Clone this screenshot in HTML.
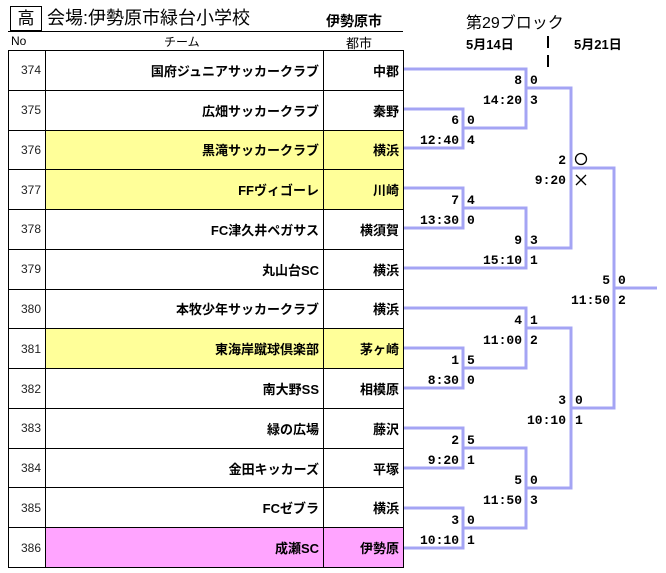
<!DOCTYPE html>
<html><head><meta charset="utf-8"><style>
body{margin:0;width:666px;height:573px;background:#fff;overflow:hidden;position:relative;font-family:"Liberation Sans","Noto Sans CJK JP",sans-serif;}
.a{position:absolute;white-space:nowrap;}
table{position:absolute;left:8px;top:50px;border-collapse:collapse;table-layout:fixed;}
tr{height:39.77px;}
td{border:1.5px solid #000;padding:0 4px;font-size:13px;box-sizing:border-box;}
td.n{width:37px;text-align:right;color:#222;font-size:12px;padding-right:4px}
td.t{width:278px;text-align:right;font-weight:bold;}
td.c{width:80px;text-align:right;font-weight:bold;}
.y td.t,.y td.c{background:#ffff99}
.p td.t,.p td.c{background:#ffa4ff}
svg{position:absolute;left:0;top:0}
svg text{font-family:"Liberation Mono","DejaVu Sans Mono",monospace;font-weight:bold;font-size:13px;}
</style></head><body>
<div class="a" style="left:10px;top:6px;width:30px;height:23px;border:1.5px solid #000;font-size:17px;text-align:center;line-height:23px;">高</div>
<div class="a" style="left:47px;top:6px;font-size:18px;line-height:24px;">会場:伊勢原市緑台小学校</div>
<div class="a" style="left:326px;top:11px;font-size:14px;font-weight:bold;">伊勢原市</div>
<div class="a" style="left:8px;top:31px;width:395px;border-top:1.5px solid #000;"></div>
<div class="a" style="left:11px;top:34px;font-size:12px;">No</div>
<div class="a" style="left:164px;top:33px;font-size:12px;">チーム</div>
<div class="a" style="left:346px;top:33px;font-size:13px;">都市</div>
<div class="a" style="left:466px;top:9px;font-size:16px;">第29ブロック</div>
<div class="a" style="left:466px;top:34px;font-size:13px;font-weight:bold;">5月14日</div>
<div class="a" style="left:574px;top:34px;font-size:13px;font-weight:bold;">5月21日</div>
<div class="a" style="left:547px;top:36px;width:2px;height:12px;background:#000"></div>
<div class="a" style="left:547px;top:55px;width:2px;height:12px;background:#000"></div>
<table>
<tr><td class="n">374</td><td class="t">国府ジュニアサッカークラブ</td><td class="c">中郡</td></tr>
<tr><td class="n">375</td><td class="t">広畑サッカークラブ</td><td class="c">秦野</td></tr>
<tr class="y"><td class="n">376</td><td class="t">黒滝サッカークラブ</td><td class="c">横浜</td></tr>
<tr class="y"><td class="n">377</td><td class="t">FFヴィゴーレ</td><td class="c">川崎</td></tr>
<tr><td class="n">378</td><td class="t">FC津久井ペガサス</td><td class="c">横須賀</td></tr>
<tr><td class="n">379</td><td class="t">丸山台SC</td><td class="c">横浜</td></tr>
<tr><td class="n">380</td><td class="t">本牧少年サッカークラブ</td><td class="c">横浜</td></tr>
<tr class="y"><td class="n">381</td><td class="t">東海岸蹴球倶楽部</td><td class="c">茅ヶ崎</td></tr>
<tr><td class="n">382</td><td class="t">南大野SS</td><td class="c">相模原</td></tr>
<tr><td class="n">383</td><td class="t">緑の広場</td><td class="c">藤沢</td></tr>
<tr><td class="n">384</td><td class="t">金田キッカーズ</td><td class="c">平塚</td></tr>
<tr><td class="n">385</td><td class="t">FCゼブラ</td><td class="c">横浜</td></tr>
<tr class="p"><td class="n">386</td><td class="t">成瀬SC</td><td class="c">伊勢原</td></tr>
</table>
<svg width="666" height="573">
<g fill="none" stroke="#a4a4f4" stroke-width="3">
<polyline points="404,69 526,69 526,128 463,128"/>
<polyline points="404,109 463,109 463,148 404,148"/>
<polyline points="526,88 571,88 571,248 526,248"/>
<polyline points="404,188 463,188 463,228 404,228"/>
<polyline points="463,208 526,208 526,268 404,268"/>
<polyline points="571,168 614,168 614,408 571,408"/>
<polyline points="614,288 657,288"/>
<polyline points="404,308 526,308 526,368 463,368"/>
<polyline points="404,348 463,348 463,388 404,388"/>
<polyline points="526,328 571,328 571,488 526,488"/>
<polyline points="404,428 463,428 463,468 404,468"/>
<polyline points="463,448 526,448 526,528 463,528"/>
<polyline points="404,508 463,508 463,548 404,548"/>
</g>
<g fill="#000">
<text x="459" y="124" text-anchor="end">6</text><text x="459" y="144" text-anchor="end">12:40</text><text x="467" y="124">0</text><text x="467" y="144">4</text>
<text x="522" y="84" text-anchor="end">8</text><text x="522" y="104" text-anchor="end">14:20</text><text x="530" y="84">0</text><text x="530" y="104">3</text>
<text x="459" y="204" text-anchor="end">7</text><text x="459" y="224" text-anchor="end">13:30</text><text x="467" y="204">4</text><text x="467" y="224">0</text>
<text x="522" y="244" text-anchor="end">9</text><text x="522" y="264" text-anchor="end">15:10</text><text x="530" y="244">3</text><text x="530" y="264">1</text>
<text x="566" y="164" text-anchor="end">2</text><text x="566" y="184" text-anchor="end">9:20</text>
<circle cx="581" cy="159" r="5.5" fill="none" stroke="#000" stroke-width="1.3"/>
<path d="M576 175 L586 185 M586 175 L576 185" stroke="#000" stroke-width="1.3"/>
<text x="610" y="284" text-anchor="end">5</text><text x="610" y="304" text-anchor="end">11:50</text><text x="618" y="284">0</text><text x="618" y="304">2</text>
<text x="522" y="324" text-anchor="end">4</text><text x="522" y="344" text-anchor="end">11:00</text><text x="530" y="324">1</text><text x="530" y="344">2</text>
<text x="459" y="364" text-anchor="end">1</text><text x="459" y="384" text-anchor="end">8:30</text><text x="467" y="364">5</text><text x="467" y="384">0</text>
<text x="566" y="404" text-anchor="end">3</text><text x="566" y="424" text-anchor="end">10:10</text><text x="575" y="404">0</text><text x="575" y="424">1</text>
<text x="459" y="444" text-anchor="end">2</text><text x="459" y="464" text-anchor="end">9:20</text><text x="467" y="444">5</text><text x="467" y="464">1</text>
<text x="522" y="484" text-anchor="end">5</text><text x="522" y="504" text-anchor="end">11:50</text><text x="530" y="484">0</text><text x="530" y="504">3</text>
<text x="459" y="524" text-anchor="end">3</text><text x="459" y="544" text-anchor="end">10:10</text><text x="467" y="524">0</text><text x="467" y="544">1</text>
</g>
</svg>
</body></html>
